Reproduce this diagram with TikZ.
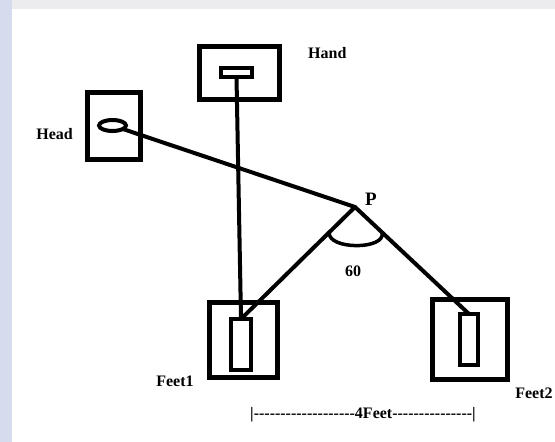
\documentclass[tikz,border=0pt]{standalone}
\usepackage{fontspec}
\setmainfont{Liberation Serif}[Ligatures=TeXOff]
\usetikzlibrary{calc,shapes.geometric}
\definecolor{edgeblue}{RGB}{214,219,238}
\definecolor{edgegray}{RGB}{236,236,238}
\begin{document}
\begin{tikzpicture}[x=1pt,y=-1pt,
  outerbox/.style={draw,line width=5pt,inner sep=0pt,outer sep=0pt},
  innerbox/.style={draw,line width=4pt,inner sep=0pt,outer sep=0pt},
  link/.style={line width=4pt},
  lbl/.style={font=\bfseries\fontsize{16}{18}\selectfont,inner sep=0pt}]
% page and its tinted margins
\useasboundingbox (0,0) rectangle (555,442);
\fill[edgegray] (0,0) rectangle (555,9);
\fill[edgeblue] (0,0) rectangle (12,442);
\fill[white] (12,9) rectangle (555,442);

% hand
\node[outerbox,minimum width=80pt,minimum height=53pt] (handbox) at (239.5,73) {};
\node[innerbox,minimum width=31pt,minimum height=9pt] (handin) at (236.5,72.5) {};
\node[lbl,anchor=west] (handlbl) at (308,53) {Hand};

% head
\node[outerbox,minimum width=53pt,minimum height=67pt] (headbox) at (114,126) {};
\node[innerbox,ellipse,minimum width=27pt,minimum height=11pt] (headeye) at (112.5,125.5) {};
\node[lbl,anchor=east] (headlbl) at (73,134) {Head};

% feet
\node[outerbox,minimum width=68pt,minimum height=75pt] (f1box) at (243.5,340) {};
\node[innerbox,minimum width=20pt,minimum height=51pt] (f1in) at (241,344.5) {};
\node[lbl] (f1lbl) at (175,381) {Feet1};
\node[outerbox,minimum width=75pt,minimum height=80pt] (f2box) at (470,339.5) {};
\node[innerbox,minimum width=18pt,minimum height=51pt] (f2in) at (469,339.5) {};
\node[lbl] (f2lbl) at (534,393) {Feet2};

% pivot point P
\coordinate (P) at (355,207);
\node[lbl,font=\bfseries\fontsize{19}{21}\selectfont] (plbl) at (371,199) {P};

% connectors
\draw[link] (headeye) -- (P);
\draw[link] (handin.south) -- (f1in.north);
\draw[link,line cap=round] (P) -- (f1in.north);
\draw[link,line cap=round] (P) -- (f2in.north);

% angle mark
\coordinate (a1) at ($(P)!0.227!(f1in.north)$);
\coordinate (a2) at ($(P)!0.238!(f2in.north)$);
\draw[line width=3.5pt] (a1) .. controls (328,250) and (386,250) .. (a2);
\node[lbl] (anglbl) at (353,271) {60};

% distance between the feet
\node[lbl] (dist) at (363,415) {|-------------------4Feet---------------|};
\end{tikzpicture}
\end{document}
